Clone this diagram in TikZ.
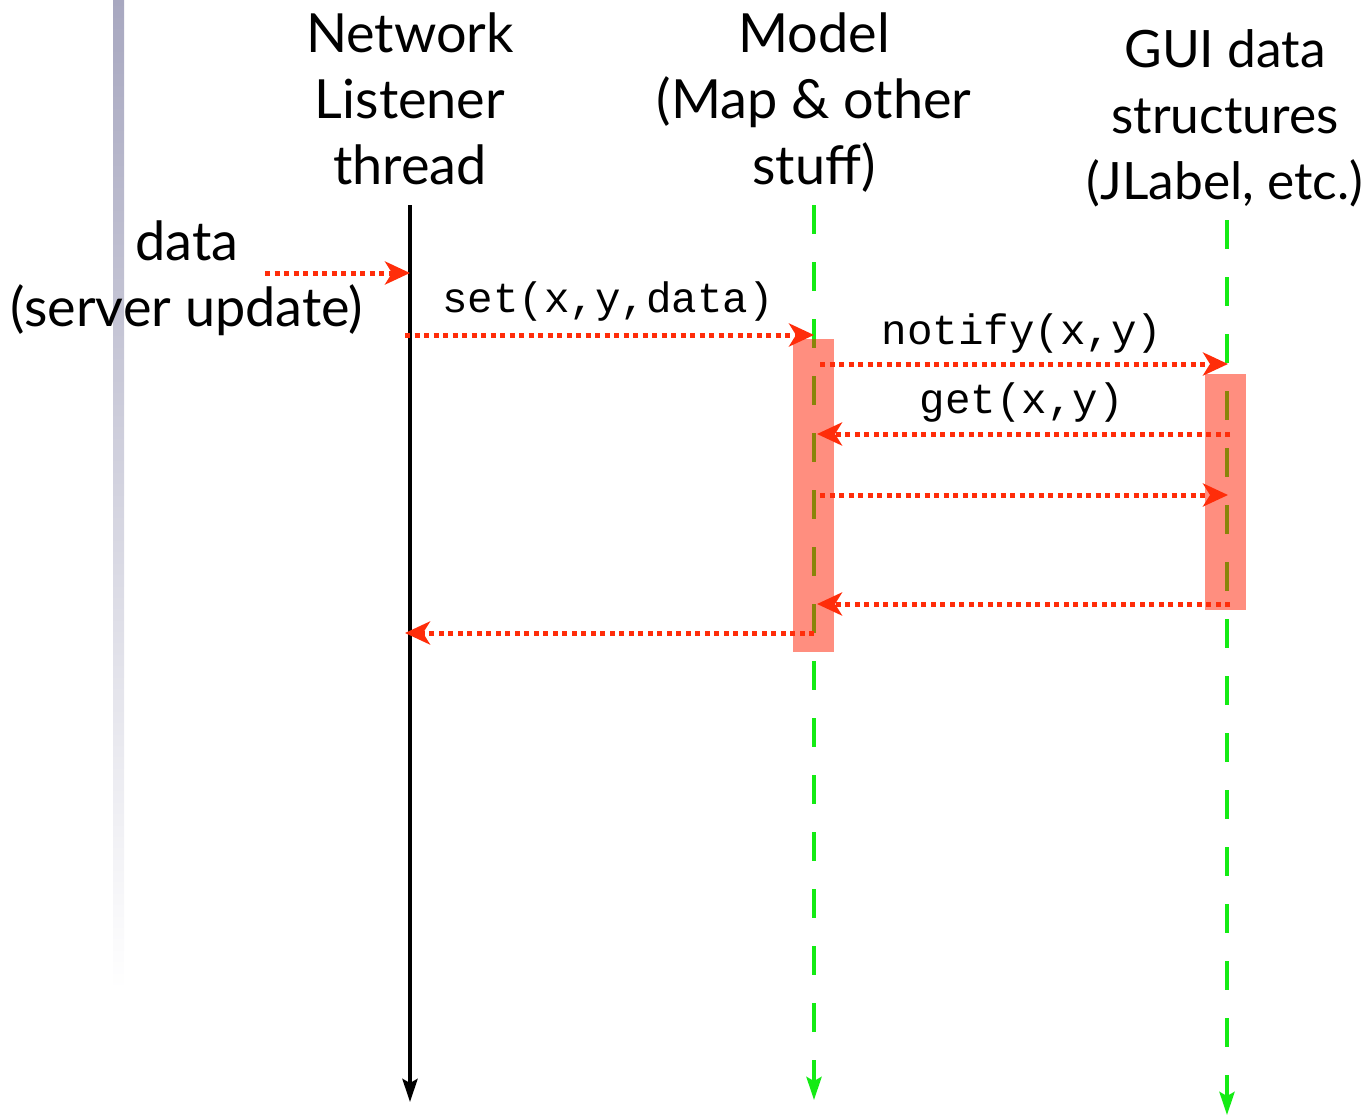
\documentclass[tikz,border=0pt]{standalone}
\usepackage{fontspec}
\setmainfont{Lato}
\setmonofont{Liberation Mono}
\usetikzlibrary{arrows.meta}
\definecolor{msgred}{RGB}{255,45,10}
\definecolor{lifegreen}{RGB}{20,235,20}
\definecolor{actred}{RGB}{255,30,0}
\definecolor{bartop}{RGB}{168,168,192}
\begin{document}
\begin{tikzpicture}[x=1pt,y=-1pt,
  head/.style={font=\fontsize{54}{66}\selectfont, align=center, anchor=base, inner sep=0pt},
  codelbl/.style={font=\ttfamily\fontsize{42.5}{42.5}\selectfont, anchor=base, inner sep=0pt},
  msg/.style={draw=msgred, line width=5pt, dash pattern=on 5pt off 4.5pt, -{Stealth[length=25pt,width=23pt,inset=7pt]}},
  lifesolid/.style={draw=black, line width=4pt, -{Stealth[length=23pt,width=15pt,inset=4pt]}},
  lifedash/.style={draw=lifegreen, line width=4pt, dash pattern=on 29pt off 28pt, -{Stealth[length=23pt,width=15pt,inset=4pt]}},
  activation/.style={fill=actred, fill opacity=0.5, draw=none}]
\useasboundingbox (0,0) rectangle (1367,1116);
% gradient bar
\shade[top color=bartop, bottom color=white] (113,0) rectangle (124,990);
% headers
\node[head] (nlhead) at (410,184) {Network\\Listener\\thread};
\node[head] (mhead) at (814,184) {Model\\(Map \& other\\stuff)};
\node[head, font=\fontsize{51.5}{66}\selectfont] (ghead) at (1225,199) {GUI data\\structures\\(JLabel, etc.)};
\node[head] (datalbl) at (187,326) {data\\(server update)};
% lifeline ends
\coordinate (nltop) at (410,205);
\coordinate (nlbot) at (410,1102);
\coordinate (mtop) at (814,205);
\coordinate (mbot) at (814,1100);
\coordinate (gtop) at (1227,220);
\coordinate (gbot) at (1227,1115);
\draw[lifesolid] (nltop) -- (nlbot);
\draw[lifedash] (mtop) -- (mbot);
\draw[lifedash] (gtop) -- (gbot);
% activations
\path[activation] (793,339) rectangle (834,652);
\path[activation] (1205,374) rectangle (1246,610);
% message endpoints
\coordinate (d0) at (265,273);
\coordinate (d1) at (410,273);
\coordinate (s0) at (405,335);
\coordinate (s1) at (814,335);
\coordinate (n0) at (820,364);
\coordinate (n1) at (1228,364);
\coordinate (g0) at (1230,434);
\coordinate (g1) at (817,434);
\coordinate (r0) at (820,495);
\coordinate (r1) at (1228,495);
\coordinate (b0) at (1230,604);
\coordinate (b1) at (817,604);
\coordinate (e0) at (814,633);
\coordinate (e1) at (405,633);
\draw[msg] (d0) -- (d1);
\draw[msg] (s0) -- (s1);
\draw[msg] (n0) -- (n1);
\draw[msg] (g0) -- (g1);
\draw[msg] (r0) -- (r1);
\draw[msg] (b0) -- (b1);
\draw[msg] (e0) -- (e1);
% labels
\node[codelbl] (setlbl) at (608,312) {set(x,y,data)};
\node[codelbl] (notlbl) at (1022,344) {notify(x,y)};
\node[codelbl] (getlbl) at (1022,413) {get(x,y)};
\end{tikzpicture}
\end{document}
